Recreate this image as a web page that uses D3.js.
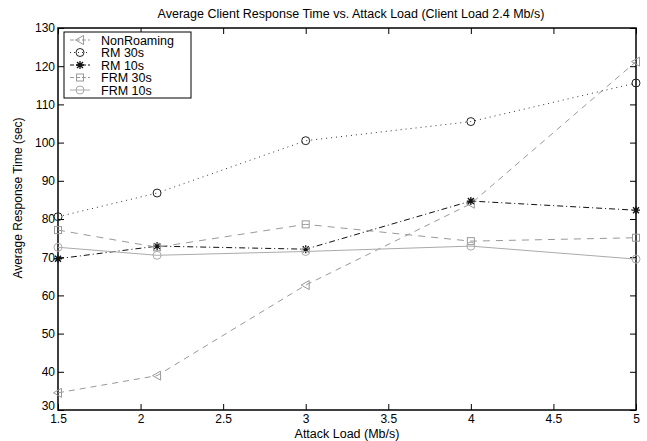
<!DOCTYPE html>
<html>
<head>
<meta charset="utf-8">
<script src="https://cdn.jsdelivr.net/npm/d3@7"></script>
<style>
body { margin: 0; background: #fff; }
text { font-family: "Liberation Sans", Arial, sans-serif; }
</style>
</head>
<body>
<svg width="647" height="441"></svg>
<script>
var attackLoad = [1.5, 2.1, 3, 4, 5]
var nonRoaming = [34.5, 39, 62.7, 84, 121.2]
var rm30 = [80.6, 86.8, 100.5, 105.5, 115.6]
var rm10 = [69.6, 72.9, 72.1, 84.7, 82.3]
var frm30 = [77.1, 72.6, 78.6, 74.2, 75.1]
var frm10 = [72.6, 70.5, 71.5, 72.9, 69.5]
var xTicks = [1.5, 2, 2.5, 3, 3.5, 4, 4.5, 5]
var yTicks = [30, 40, 50, 60, 70, 80, 90, 100, 110, 120, 130]

var series = [
    { name: "NonRoaming", values: nonRoaming, color: "#999", dash: "6,5", marker: "tri" },
    { name: "RM 30s", values: rm30, color: "#333", dash: "1,4", marker: "circle", markColor: "#222" },
    { name: "RM 10s", values: rm10, color: "#111", dash: "6,3,1,3", marker: "star" },
    { name: "FRM 30s", values: frm30, color: "#999", dash: "7,6", marker: "square" },
    { name: "FRM 10s", values: frm10, color: "#aaa", dash: null, marker: "circle" }
]

var svg = d3.select("svg")
var L = 58, R = 636, T = 28, B = 410
var x = d3.scaleLinear().domain([1.5, 5]).range([L, R])
var y = d3.scaleLinear().domain([30, 130]).range([B, T])
var fs = 12.5

// ticks inward on all sides
var g = svg.append("g")
g.append("g").attr("transform", "translate(0," + B + ")")
    .call(d3.axisBottom(x).tickValues(xTicks).tickSizeInner(-6).tickSizeOuter(0).tickPadding(4).tickFormat(d3.format("")))
g.append("g").attr("transform", "translate(0," + T + ")")
    .call(d3.axisTop(x).tickValues(xTicks).tickSizeInner(-6).tickSizeOuter(0).tickFormat(""))
var yl = g.append("g").attr("transform", "translate(" + L + ",0)")
    .call(d3.axisLeft(y).tickValues(yTicks).tickSizeInner(-6).tickSizeOuter(0).tickPadding(3))
g.append("g").attr("transform", "translate(" + R + ",0)")
    .call(d3.axisRight(y).tickValues(yTicks).tickSizeInner(-6).tickSizeOuter(0).tickFormat(""))
g.selectAll(".domain").remove()
g.selectAll(".tick line").attr("stroke", "#000")
g.selectAll(".tick text").attr("font-size", 12).attr("fill", "#000")
    .style("font-family", "Liberation Sans, Arial, sans-serif")
// bottom y label sits a bit higher, as in the original
yl.selectAll(".tick text").filter(function(d) { return d == 30 }).attr("dy", "-0.05em")

svg.append("rect").attr("x", L).attr("y", T).attr("width", R - L).attr("height", B - T)
    .attr("fill", "none").attr("stroke", "#000").attr("stroke-width", 1.5)

function drawMarker(sel, type, color, px, py) {
    if (type == "circle") {
        sel.append("circle").attr("cx", px).attr("cy", py).attr("r", 4)
            .attr("fill", "none").attr("stroke", color)
    } else if (type == "square") {
        sel.append("rect").attr("x", px - 3.5).attr("y", py - 3.5).attr("width", 7).attr("height", 7)
            .attr("fill", "none").attr("stroke", color)
    } else if (type == "tri") {
        sel.append("polygon").attr("points", [[px - 4.5, py], [px + 3.5, py - 4.5], [px + 3.5, py + 4.5]].join(" "))
            .attr("fill", "none").attr("stroke", color)
    } else if (type == "star") {
        var s = 4
        sel.append("path").attr("d",
            "M" + (px - s) + "," + py + "H" + (px + s) +
            "M" + px + "," + (py - s) + "V" + (py + s) +
            "M" + (px - s * 0.75) + "," + (py - s * 0.75) + "L" + (px + s * 0.75) + "," + (py + s * 0.75) +
            "M" + (px - s * 0.75) + "," + (py + s * 0.75) + "L" + (px + s * 0.75) + "," + (py - s * 0.75))
            .attr("stroke", color).attr("stroke-width", 1.3)
    }
}

var line = d3.line().x(function(d, i) { return x(attackLoad[i]) }).y(function(d) { return y(d) })
var plot = svg.append("g")
series.forEach(function(s) {
    plot.append("path").datum(s.values).attr("d", line)
        .attr("fill", "none").attr("stroke", s.color).attr("stroke-width", 1)
        .attr("stroke-dasharray", s.dash)
    s.values.forEach(function(v, i) {
        drawMarker(plot, s.marker, s.markColor || s.color, x(attackLoad[i]), y(v))
    })
})

// legend
var lg = svg.append("g").attr("transform", "translate(64,32)")
lg.append("rect").attr("width", 127).attr("height", 66).attr("fill", "#fff").attr("stroke", "#000")
series.forEach(function(s, i) {
    var ly = 8 + i * 12.5
    lg.append("line").attr("x1", 6).attr("x2", 26).attr("y1", ly).attr("y2", ly)
        .attr("stroke", s.color).attr("stroke-dasharray", s.dash ? (s.dash == "1,4" ? "1,3" : "4,2") : null)
    drawMarker(lg, s.marker, s.markColor || s.color, 16, ly)
    lg.append("text").attr("x", 37).attr("y", ly + 4.5).attr("font-size", fs).text(s.name)
})

svg.append("text").attr("x", 351).attr("y", 18).attr("text-anchor", "middle")
    .attr("font-size", fs).text("Average Client Response Time vs. Attack Load (Client Load 2.4 Mb/s)")
svg.append("text").attr("x", (L + R) / 2).attr("y", 438).attr("text-anchor", "middle")
    .attr("font-size", fs).text("Attack Load (Mb/s)")
svg.append("text").attr("transform", "translate(22,198) rotate(-90)")
    .attr("text-anchor", "middle").attr("font-size", 12).text("Average Response Time (sec)")
</script>
</body>
</html>
